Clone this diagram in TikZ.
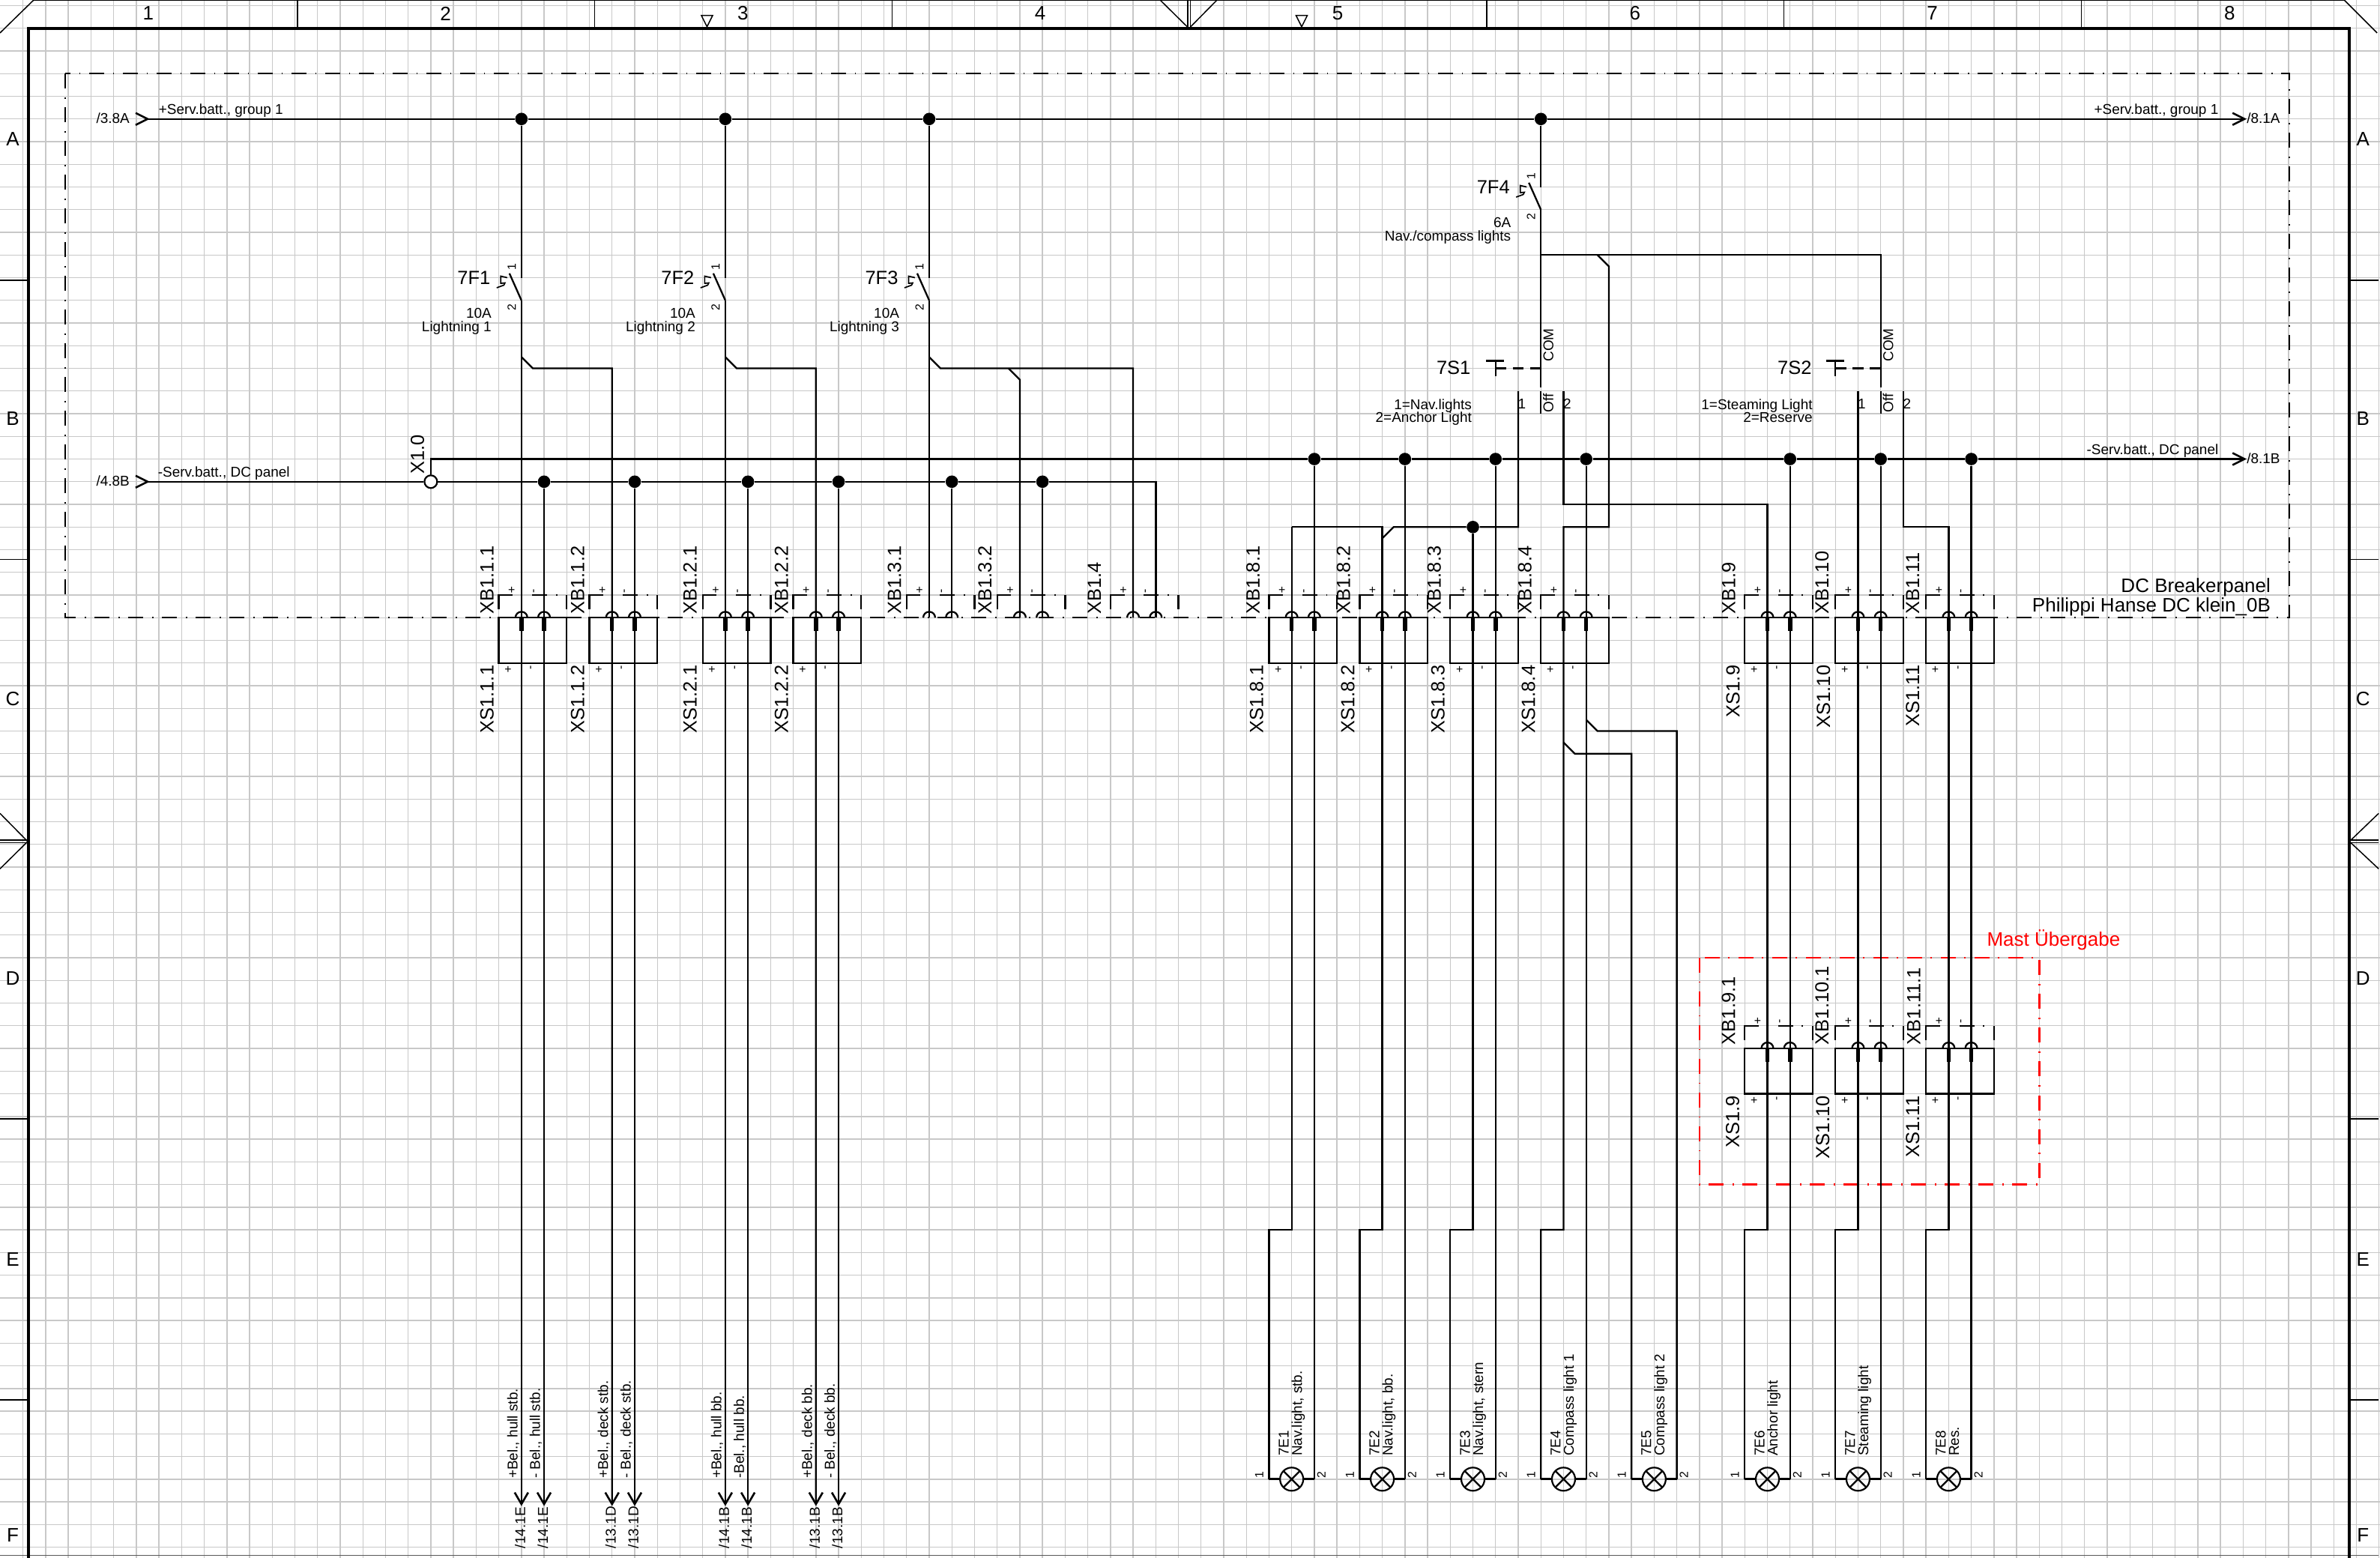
\documentclass[tikz,border=0pt]{standalone}
\usepackage{fontspec}
\setmainfont{Liberation Sans}
\usetikzlibrary{calc,shapes.geometric}
\definecolor{gridc}{HTML}{C8C8C8}
\tikzset{
 gridl/.style={draw=gridc,line width=0.014cm},
 wire/.style={draw=black,line width=0.023cm,line join=miter},
 bus/.style={draw=black,line width=0.025cm},
 thinl/.style={draw=black,line width=0.015cm},
 framel/.style={draw=black,line width=0.04cm},
 chev/.style={draw=black,line width=0.026cm,line join=miter},
 dashdot/.style={line width=0.024cm,dash pattern=on 0.2cm off 0.115cm on 0.018cm off 0.117cm},
 dotn/.style={circle,fill=black,draw=none,inner sep=0pt,minimum size=0.166cm},
 termn/.style={ellipse,fill=white,draw=black,line width=0.022cm,inner sep=0pt,minimum size=0.17cm},
 lampn/.style={circle,draw=black,line width=0.022cm,inner sep=0pt,minimum size=0.31cm},
 lab/.style={inner sep=0pt,outer sep=0pt},
 fbig/.style={font=\fontsize{7.25}{8}\selectfont},
 fhead/.style={font=\fontsize{7.4}{8}\selectfont},
 fmid/.style={font=\fontsize{5.4}{6}\selectfont},
 fnum/.style={font=\fontsize{4.5}{5}\selectfont},
 vs/.style={lab,rotate=90,anchor=base west},
 ve/.style={lab,rotate=90,anchor=base east},
 vc/.style={lab,rotate=90,anchor=center},
}
% bracket and sockets of a plug: k0 of the group, j of the panel line
\newcommand\XBgroup[2]{%
 \draw[wire] (#1,#2-.38) -- (#1,#2-1) -- (#1+.62,#2-1);
 \draw[wire] (#1+1.47,#2-1) -- (#1+2.13,#2-1);
 \draw[wire] (#1+2.52,#2-1) -- (#1+2.58,#2-1);
 \draw[wire] (#1+3,#2-1) -- (#1+3,#2-.38);
 \node[lab,fnum,yshift=0.06cm] (plus#1j#2) at (#1+.57,#2-1) {+};
 \node[yshift=0.055cm,vc,fnum] (minus#1j#2) at (#1+1.6,#2-1) {-};
 \draw[wire] (#1+1,#2) ++(-0.08cm,0) arc[start angle=180,end angle=0,radius=0.08cm];
 \draw[wire] (#1+2,#2) ++(-0.08cm,0) arc[start angle=180,end angle=0,radius=0.08cm];
}
% box with two plugs
\newcommand\XSbox[2]{%
 \draw[wire] (#1,#2) rectangle (#1+3,#2+2);
 \draw[line width=0.055cm] (#1+1,#2) -- (#1+1,#2+.6);
 \draw[line width=0.055cm] (#1+2,#2) -- (#1+2,#2+.6);
 \node[lab,fnum,yshift=-0.09cm] (bplus#1j#2) at (#1+.41,#2+2) {+};
 \node[yshift=-0.065cm,vc,fnum] (bminus#1j#2) at (#1+1.47,#2+2) {-};
}
\begin{document}
\begin{tikzpicture}[x=0.3023cm,y=-0.3025cm]
\useasboundingbox (-0.005cm,0.075cm) rectangle (31.755cm,-20.705cm);
\clip (-0.005cm,0.075cm) rectangle (31.755cm,-20.705cm);
\fill[white] (-0.005cm,0.075cm) rectangle (31.755cm,-20.705cm);
% grid
\foreach \i in {1,...,105} {\draw[gridl] (\i,-1) -- (\i,69);}
\foreach \j in {0,...,68} {\draw[gridl] (-1,\j) -- (106,\j);}
% sheet frame, drawn in pixels of the reference
\begin{scope}[x=0.01cm,y=-0.01cm,shift={(-0.005cm,0.075cm)}]
 \draw[thinl] (45,0.7) -- (3130,0.7);
 \draw[draw=black!65,line width=0.012cm] (0,2077) -- (3176,2077);
 \draw[framel] (38.3,2090) -- (38.3,38.3) -- (3136.7,38.3) -- (3136.7,2090);
 \draw[thinl] (45,0) -- (0,44);
 \draw[thinl] (3130,0) -- (3174,44);
 \foreach \x in {397,794,1191,1985,2382,2779} {\draw[thinl] (\x,0) -- (\x,38);}
 \foreach \y in {374,747,1494,1869} {\draw[thinl] (0,\y) -- (38,\y); \draw[thinl] (3137,\y) -- (3176,\y);}
 \draw[thinl] (1586,0) -- (1586,38); \draw[thinl] (1589.3,0) -- (1589.3,38);
 \draw[thinl] (1549,0) -- (1587.5,38) -- (1625,0);
 \draw[thinl] (0,1121.7) -- (36,1121.7); \draw[thinl] (0,1125) -- (36,1125);
 \draw[thinl] (0,1086) -- (37,1123.5) -- (0,1160);
 \draw[thinl] (3176,1121.7) -- (3138,1121.7); \draw[thinl] (3176,1125) -- (3138,1125);
 \draw[thinl] (3176,1086) -- (3137,1123.5) -- (3176,1160);
 \foreach \x in {944,1738} {\draw[thinl,line join=miter] (\x-7.5,20.7) -- (\x+7.5,20.7) -- (\x,35.7) -- cycle;}
 \foreach \nn/\x in {1/198,2/595,3/992,4/1389,5/1786,6/2183,7/2580,8/2977}
   {\node[lab,fhead] (col\nn) at (\x,18) {\nn};}
 \foreach \nn/\y in {A/186,B/559,C/933,D/1306,E/1681,F/2050} {
   \node[lab,fhead] (rowl\nn) at (17,\y) {\nn};
   \node[lab,fhead] (rowr\nn) at (3155,\y) {\nn};
 }
 % panel outline
 \coordinate (panelTL) at (87,98.3);
 \coordinate (panelBR) at (3056.7,824.3);
 \draw[dashdot,draw=black] (panelTL) rectangle (panelBR);
 % free texts
 \node[lab,fmid,anchor=base east] (t38a) at (173,165) {/3.8A};
 \node[lab,fmid,anchor=base west] (tsa) at (212,153) {+Serv.batt., group 1};
 \node[lab,fmid,anchor=base east] (tsb) at (2962,153) {+Serv.batt., group 1};
 \node[lab,fmid,anchor=base west] (t81a) at (3000,165) {/8.1A};
 \node[lab,fmid,anchor=base east] (t48b) at (173,649) {/4.8B};
 \node[lab,fmid,anchor=base west] (tda) at (211,636.5) {-Serv.batt., DC panel};
 \node[lab,fmid,anchor=base east] (tdb) at (2962,606.5) {-Serv.batt., DC panel};
 \node[lab,fmid,anchor=base west] (t81b) at (3000,619) {/8.1B};
 \node[lab,fbig,anchor=base east] (t7s1) at (1963.5,499.5) {7S1};
 \node[lab,fbig,anchor=base east] (t7s2) at (2418.8,499.5) {7S2};
 \node[lab,fmid,anchor=base east] (ts1a) at (1965,546.7) {1=Nav.lights};
 \node[lab,fmid,anchor=base east] (ts1b) at (1965,564) {2=Anchor Light};
 \node[lab,fmid,anchor=base east] (ts2a) at (2420,546.7) {1=Steaming Light};
 \node[lab,fmid,anchor=base east] (ts2b) at (2420,564) {2=Reserve};
 \node[lab,fhead,anchor=base east] (tdc1) at (3031.7,790.7) {DC Breakerpanel};
 \node[lab,fhead,anchor=base east] (tdc2) at (3031.7,816.7) {Philippi Hanse DC klein\_0B};
 \node[lab,fhead,anchor=base west,text=red] (tmast) at (2653,1263) {Mast Übergabe};
\end{scope}
% mast outline
\coordinate (mastTL) at (75,42);
\coordinate (mastBR) at (90,52);
\draw[dashdot,draw=red] (mastTL) rectangle (mastBR);
% named points
\coordinate (inA) at (6.5,5); \coordinate (outA) at (99.06,5);
\coordinate (inB) at (6.5,21); \coordinate (outB) at (99.06,20);
\coordinate (xup) at (19,20);
\node[termn] (X10) at (19,21) {};
\foreach \k in {23,32,41,68} {\node[dotn] (A\k) at (\k,5) {};}
\foreach \k in {24,28,33,37,42,46} {\node[dotn] (L\k) at (\k,21) {};}
\foreach \k in {58,62,66,70,79,83,87} {\node[dotn] (D\k) at (\k,20) {};}
\node[dotn] (J65) at (65,23) {};
\foreach \k in {23,24,27,28,32,33,36,37} {\coordinate (tip\k) at (\k,66.1);}
\foreach \k in {41,42,45,46,50,51} {\coordinate (e\k) at (\k,27);}
\foreach \k/\jj in {23/12,32/12,41/12,68/8} {
  \coordinate (fa\k) at (\k,\jj);
  \coordinate (fb\k) at (\k,\jj+1);
}
\foreach \nn/\cc in {1/57,2/61,3/65,4/69,5/73,6/78,7/82,8/86} {
  \node[lampn] (E\nn) at (\cc,65) {};
  \coordinate (ll\nn) at (\cc-1,65);
  \coordinate (lr\nn) at (\cc+1,65);
  \draw[wire,line width=0.028cm] (ll\nn) -- (E\nn.west);
  \draw[wire,line width=0.028cm] (E\nn.east) -- (lr\nn);
  \draw[wire] ($(E\nn.center)+(45:0.155cm)$) -- ($(E\nn.center)+(225:0.155cm)$);
  \draw[wire] ($(E\nn.center)+(135:0.155cm)$) -- ($(E\nn.center)+(315:0.155cm)$);
}
% buses
\draw[bus] (inA) -- (A23) -- (A32) -- (A41) -- (A68) -- (outA);
\draw[bus] (inB) -- (X10);
\draw[bus] (X10) -- (xup) -- (D58) -- (D62) -- (D66) -- (D70) -- (D79) -- (D83) -- (D87) -- (outB);
\draw[bus] (X10) -- (L24) -- (L28) -- (L33) -- (L37) -- (L42) -- (L46) -- (51,21) -- (e51);
% chevrons
\foreach \pp in {inA,inB,outA,outB}
  {\draw[chev] ($(\pp)+(-0.16cm,0.08cm)$) -- (\pp) -- ($(\pp)+(-0.16cm,-0.08cm)$);}
\foreach \k in {23,24,27,28,32,33,36,37}
  {\draw[chev] ($(tip\k)+(-0.09cm,0.155cm)$) -- (tip\k) -- ($(tip\k)+(0.09cm,0.155cm)$);}
% fuses
\foreach \k in {23,32,41,68} {
  \draw[wire] (A\k) -- (fa\k);
  \draw[wire,line join=round] (fb\k) -- ($(fa\k)+(-0.16cm,0.057cm)$);
  \draw[wire,line width=0.017cm] ($(fa\k)+(-0.19cm,0cm)$) -- ($(fa\k)+(-0.275cm,0.02cm)$) -- ($(fa\k)+(-0.275cm,-0.076cm)$) -- ($(fa\k)+(-0.22cm,-0.07cm)$) -- ($(fa\k)+(-0.235cm,-0.1cm)$) -- ($(fa\k)+(-0.33cm,-0.135cm)$);
}
% wires of the left groups
\draw[wire] (fb23) -- (tip23);
\draw[wire] (L24) -- (tip24);
\draw[wire] (23,15.5) -- (23.5,16) -- (27,16) -- (tip27);
\draw[wire] (L28) -- (tip28);
\draw[wire] (fb32) -- (tip32);
\draw[wire] (L33) -- (tip33);
\draw[wire] (32,15.5) -- (32.5,16) -- (36,16) -- (tip36);
\draw[wire] (L37) -- (tip37);
\draw[wire] (fb41) -- (e41);
\draw[wire] (L42) -- (e42);
\draw[wire] (41,15.5) -- (41.5,16) -- (50,16) -- (e50);
\draw[wire] (44.5,16) -- (45,16.5) -- (e45);
\draw[wire] (L46) -- (e46);
% 7F4 and switches
\coordinate (com68) at (68,16.85);
\coordinate (com83) at (83,16.85);
\draw[wire] (fb68) -- (com68);
\draw[wire] (68,11) -- (83,11) -- (com83);
\foreach \k in {68,83} {\draw[wire] (\k,17) -- (\k,18);}
\foreach \bb/\cc in {66/68,81/83} {
  \coordinate (sb\bb) at (\bb,16);
  \coordinate (sc\bb) at (\cc,16);
  \draw[wire,dash pattern=on 0.145cm off 0.085cm] (sb\bb) -- (sc\bb);
  \draw[wire] ($(sb\bb)+(0,0.1cm)$) -- ($(sb\bb)+(0,-0.1cm)$);
  \draw[wire] ($(sb\bb)+(-0.125cm,0.1cm)$) -- ($(sb\bb)+(0.115cm,0.1cm)$);
}
% right groups
\draw[wire] (70.5,11) -- (71,11.5) -- (71,23) -- (69,23) -- (69,54) -- (68,54) -- (ll4);
\draw[wire] (67,17) -- (67,23) -- (J65) -- (61.5,23) -- (61,23.5);
\draw[wire] (57,23) -- (61,23) -- (61,54) -- (60,54) -- (ll2);
\draw[wire] (57,23) -- (57,54) -- (56,54) -- (ll1);
\draw[wire] (J65) -- (65,54) -- (64,54) -- (ll3);
\draw[wire] (69,17) -- (69,22) -- (78,22) -- (78,54) -- (77,54) -- (ll6);
\draw[wire] (82,17) -- (82,54) -- (81,54) -- (ll7);
\draw[wire] (84,17) -- (84,23) -- (86,23) -- (86,54) -- (85,54) -- (ll8);
\draw[wire] (D58) -- (lr1);
\draw[wire] (D62) -- (lr2);
\draw[wire] (D66) -- (lr3);
\draw[wire] (D70) -- (lr4);
\draw[wire] (D79) -- (lr6);
\draw[wire] (D83) -- (lr7);
\draw[wire] (D87) -- (lr8);
\draw[wire] (70,31.5) -- (70.5,32) -- (74,32) -- (lr5);
\draw[wire] (69,32.5) -- (69.5,33) -- (72,33) -- (ll5);
% plugs
\foreach \k in {22,26,31,35,40,44,49,56,60,64,68,77,81,85} {\XBgroup{\k}{27}}
\foreach \k in {22,26,31,35,56,60,64,68,77,81,85} {\XSbox{\k}{27}}
\foreach \k in {77,81,85} {\XBgroup{\k}{46}\XSbox{\k}{46}}
% plug names
\foreach \k/\tx/\dd in {22/XB1.1.1/-16,26/XB1.1.2/-16,31/XB1.2.1/-17,35/XB1.2.2/-16,40/XB1.3.1/-16.5,44/XB1.3.2/-16.5,49/XB1.4/-21.7,56/XB1.8.1/-21.7,60/XB1.8.2/-21.7,64/XB1.8.3/-21.7,68/XB1.8.4/-21.7,77/XB1.9/-21.7,81/XB1.10/-18,85/XB1.11/-18}
  {\node[xshift={(\dd+9)*0.01cm},yshift=0.05cm,vs,fbig] (xb\k) at (\k,27) {\tx};}
\foreach \k/\tx/\dd in {22/XS1.1.1/-16,26/XS1.1.2/-16,31/XS1.2.1/-17,35/XS1.2.2/-16,56/XS1.8.1/-16.8,60/XS1.8.2/-16,64/XS1.8.3/-16.8,68/XS1.8.4/-16.8,77/XS1.9/-16,81/XS1.10/-16,85/XS1.11/-18}
  {\node[xshift={(\dd+9)*0.01cm},yshift=-0.03cm,ve,fbig] (xs\k) at (\k,29) {\tx};}
\foreach \k/\tx/\dd in {77/XB1.9.1/-22,81/XB1.10.1/-18,85/XB1.11.1/-16.5}
  {\node[xshift={(\dd+9)*0.01cm},yshift=0.05cm,vs,fbig] (xbm\k) at (\k,46) {\tx};}
\foreach \k/\tx/\dd in {77/XS1.9/-16.5,81/XS1.10/-17,85/XS1.11/-18}
  {\node[xshift={(\dd+9)*0.01cm},yshift=-0.03cm,ve,fbig] (xsm\k) at (\k,48) {\tx};}
\node[xshift=-0.09cm,yshift=0.1cm,vs,fbig] (x10lab) at (19,21) {X1.0};
% fuse texts
\foreach \k/\nn/\am/\tx in {23/7F1/10A/{Lightning 1},32/7F2/10A/{Lightning 2},41/7F3/10A/{Lightning 3},68/7F4/6A/{Nav./compass lights}} {
  \node[lab,fbig,anchor=base east,xshift=-0.415cm,yshift=-0.085cm] (fn\k) at (fa\k) {\nn};
  \node[lab,fmid,anchor=base east,xshift=-0.40cm,yshift=-0.236cm] (fi\k) at (fb\k) {\am};
  \node[lab,fmid,anchor=base east,xshift=-0.40cm,yshift=-0.42cm] (ft\k) at (fb\k) {\tx};
  \node[xshift=-0.13cm,yshift=0.145cm,vc,fnum] (fone\k) at (fa\k) {1};
  \node[xshift=-0.13cm,yshift=-0.095cm,vc,fnum] (ftwo\k) at (fb\k) {2};
}
% switch texts
\foreach \k in {68,83} {
  \node[xshift=0.167cm,yshift=0.09cm,vs,fmid] (com\k t) at (\k,16) {COM};
  \node[xshift=0.167cm,yshift=0.02cm,vs,fmid] (off\k t) at (\k,18) {Off};
  \node[lab,fmid,xshift=0.05cm,yshift=-0.17cm] (swa\k) at (\k-1,17) {1};
  \node[lab,fmid,xshift=0.05cm,yshift=-0.17cm] (swb\k) at (\k+1,17) {2};
}
% outgoing wires
\foreach \k/\tx/\rr in {23/{+Bel., hull stb.}/14.1E,24/{- Bel., hull stb.}/14.1E,27/{+Bel., deck stb.}/13.1D,28/{- Bel., deck stb.}/13.1D,32/{+Bel., hull bb.}/14.1B,33/{-Bel., hull bb.}/14.1B,36/{+Bel., deck bb.}/13.1B,37/{- Bel., deck bb.}/13.1B} {
  \node[xshift=-0.053cm,yshift=0.01cm,vs,fmid] (bel\k) at (\k,65) {\tx};
  \node[xshift=0.05cm,yshift=-0.015cm,vs,fmid] (ref\k) at (\k,68) {/\rr};
}
% lamps
\foreach \nn/\cc/\tx in {1/57/{Nav.light, stb.},2/61/{Nav.light, bb.},3/65/{Nav.light, stern},4/69/{Compass light 1},5/73/{Compass light 2},6/78/{Anchor light},7/82/{Steaming light},8/86/{Res.}} {
  \node[xshift=-0.04cm,yshift=0.008cm,vs,fmid] (en\nn) at (\cc,64) {7E\nn};
  \node[xshift=0.137cm,yshift=0.008cm,vs,fmid] (et\nn) at (\cc,64) {\tx};
  \node[xshift=-0.13cm,yshift=0.055cm,vc,fnum] (el\nn) at (ll\nn) {1};
  \node[xshift=0.095cm,yshift=0.06cm,vc,fnum] (er\nn) at (lr\nn) {2};
}
\end{tikzpicture}
\end{document}
